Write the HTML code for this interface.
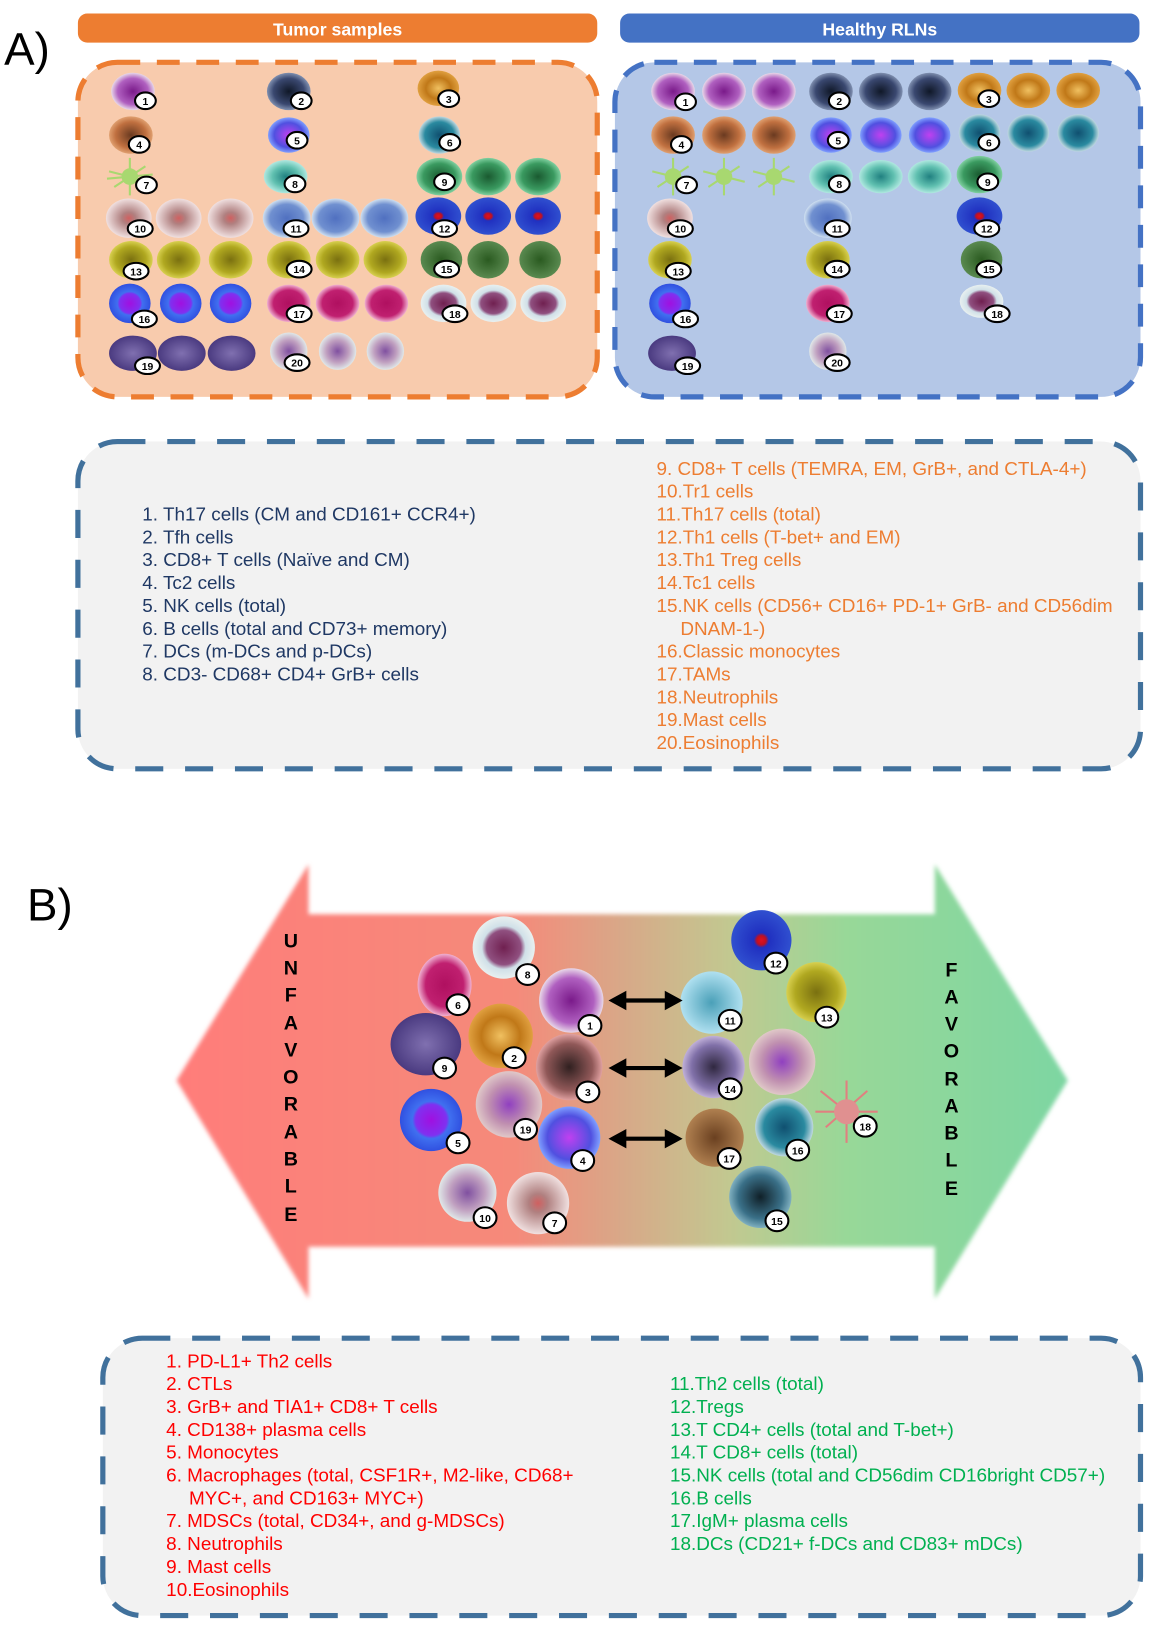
<!DOCTYPE html>
<html><head><meta charset="utf-8"><style>
html,body{margin:0;padding:0;background:#fff}
svg{display:block}
.t{font-family:"Liberation Sans",sans-serif;font-size:18.2px}
.b text{font-family:"Liberation Sans",sans-serif;font-size:10px;font-weight:bold;text-anchor:middle}
.b ellipse{fill:#fff;stroke:#000;stroke-width:2}
.L text{font-family:"Liberation Sans",sans-serif;font-size:19px;font-weight:bold;text-anchor:middle}
</style></head><body>
<svg width="1154" height="1627" viewBox="0 0 1111 1566" preserveAspectRatio="none" xmlns="http://www.w3.org/2000/svg">
<defs>
<radialGradient id="c1"><stop offset="0" stop-color="#7a1a8a"/><stop offset=".7" stop-color="#b060c0"/><stop offset="1" stop-color="#e8d8e8"/></radialGradient>
<radialGradient id="c2"><stop offset="0" stop-color="#101828"/><stop offset=".7" stop-color="#3a4870"/><stop offset="1" stop-color="#8090b0"/></radialGradient>
<radialGradient id="c3"><stop offset="0" stop-color="#f0c060"/><stop offset=".6" stop-color="#c07818"/><stop offset="1" stop-color="#e0a040"/></radialGradient>
<radialGradient id="c4"><stop offset="0" stop-color="#6a3a20"/><stop offset=".7" stop-color="#c07040"/><stop offset="1" stop-color="#e0a070"/></radialGradient>
<radialGradient id="c5"><stop offset="0" stop-color="#c040f0"/><stop offset=".7" stop-color="#5050e0"/><stop offset="1" stop-color="#80a0ff"/></radialGradient>
<radialGradient id="c6"><stop offset="0" stop-color="#105070"/><stop offset=".7" stop-color="#2a8aa0"/><stop offset="1" stop-color="#c0d8e0"/></radialGradient>
<radialGradient id="c8"><stop offset="0" stop-color="#208080"/><stop offset=".6" stop-color="#60c0b0"/><stop offset="1" stop-color="#b0e8e0"/></radialGradient>
<radialGradient id="c9"><stop offset="0" stop-color="#1a5a30"/><stop offset=".7" stop-color="#3a9a60"/><stop offset="1" stop-color="#80d0a0"/></radialGradient>
<radialGradient id="c10"><stop offset="0" stop-color="#d06060"/><stop offset=".3" stop-color="#b08080"/><stop offset="1" stop-color="#f0e0e0"/></radialGradient>
<radialGradient id="c11"><stop offset="0" stop-color="#5070c0"/><stop offset=".7" stop-color="#7090d0"/><stop offset="1" stop-color="#d0e0f0"/></radialGradient>
<radialGradient id="c12"><stop offset="0" stop-color="#e01020"/><stop offset=".15" stop-color="#c01020"/><stop offset=".25" stop-color="#2030c0"/><stop offset="1" stop-color="#3050d0"/></radialGradient>
<radialGradient id="c13"><stop offset="0" stop-color="#7a7010"/><stop offset=".7" stop-color="#b0a820"/><stop offset="1" stop-color="#d8d050"/></radialGradient>
<radialGradient id="c15"><stop offset="0" stop-color="#2a5a20"/><stop offset="1" stop-color="#5a8a50"/></radialGradient>
<radialGradient id="c16"><stop offset="0" stop-color="#a010e0"/><stop offset=".5" stop-color="#8030f0"/><stop offset=".6" stop-color="#4070f0"/><stop offset="1" stop-color="#3050e0"/></radialGradient>
<radialGradient id="c17"><stop offset="0" stop-color="#b01060"/><stop offset=".7" stop-color="#c02070"/><stop offset="1" stop-color="#f0b0d0"/></radialGradient>
<radialGradient id="c18"><stop offset="0" stop-color="#702050"/><stop offset=".55" stop-color="#905080"/><stop offset=".7" stop-color="#d0e0e8"/><stop offset="1" stop-color="#e8f0f0"/></radialGradient>
<radialGradient id="c19"><stop offset="0" stop-color="#8070b0"/><stop offset="1" stop-color="#4a3a80"/></radialGradient>
<radialGradient id="c20"><stop offset="0" stop-color="#8050a0"/><stop offset=".6" stop-color="#c0a0c0"/><stop offset="1" stop-color="#e0e8e8"/></radialGradient>
<radialGradient id="cB3"><stop offset="0" stop-color="#302020"/><stop offset=".7" stop-color="#905858"/><stop offset="1" stop-color="#e0a0a0"/></radialGradient>
<radialGradient id="cB19"><stop offset="0" stop-color="#9040c0"/><stop offset=".6" stop-color="#c090b0"/><stop offset="1" stop-color="#e0c8c8"/></radialGradient>
<radialGradient id="cB11"><stop offset="0" stop-color="#4aa0b8"/><stop offset="1" stop-color="#b0e0f0"/></radialGradient>
<radialGradient id="cB14"><stop offset="0" stop-color="#302840"/><stop offset=".7" stop-color="#8070a8"/><stop offset="1" stop-color="#c0b0d8"/></radialGradient>
<radialGradient id="cB17"><stop offset="0" stop-color="#6a4020"/><stop offset="1" stop-color="#b08050"/></radialGradient>
<radialGradient id="cB15"><stop offset="0" stop-color="#102028"/><stop offset=".7" stop-color="#3a7088"/><stop offset="1" stop-color="#80b0c0"/></radialGradient>
<linearGradient id="arr" x1="0" x2="1"><stop offset="0" stop-color="#ff7d7a"/><stop offset=".38" stop-color="#f58a7a"/><stop offset=".5" stop-color="#d8a888"/><stop offset=".62" stop-color="#c2c890"/><stop offset=".75" stop-color="#98d898"/><stop offset="1" stop-color="#7dd6a2"/></linearGradient>
<filter id="bl"><feGaussianBlur stdDeviation="2"/></filter>
</defs>

<!-- A -->
<text x="4" y="62" style="font-family:'Liberation Sans',sans-serif;font-size:44px">A)</text>
<rect x="75" y="13" width="500" height="28" rx="9" fill="#ED7D31"/>
<text x="325" y="34" text-anchor="middle" style="font-family:'Liberation Sans',sans-serif;font-size:17px;font-weight:bold" fill="#fff">Tumor samples</text>
<rect x="597" y="13" width="500" height="28" rx="9" fill="#4472C4"/>
<text x="847" y="34" text-anchor="middle" style="font-family:'Liberation Sans',sans-serif;font-size:17px;font-weight:bold" fill="#fff">Healthy RLNs</text>
<rect x="75" y="60" width="500" height="322" rx="38" fill="#F8CBAD" stroke="#ED7D31" stroke-width="5" stroke-dasharray="22 16"/>
<rect x="592" y="60" width="506" height="322" rx="38" fill="#B4C7E7" stroke="#4472C4" stroke-width="5" stroke-dasharray="22 16"/>

<g>
<ellipse cx="128" cy="88" rx="21" ry="18" fill="url(#c1)"/>
<ellipse cx="278" cy="88" rx="21" ry="18" fill="url(#c2)"/>
<ellipse cx="422" cy="85" rx="20" ry="17" fill="url(#c3)"/>
<ellipse cx="126" cy="130" rx="21" ry="18" fill="url(#c4)"/>
<ellipse cx="278" cy="130" rx="20" ry="17" fill="url(#c5)"/>
<ellipse cx="423" cy="130" rx="20" ry="18" fill="url(#c6)"/>
<circle cx="125" cy="170" r="8" fill="#a8d870"/><path d="M105 165 L145 175 M110 180 L140 160 M125 152 L125 188 M103 172 L147 168" stroke="#a8d870" stroke-width="2"/>
<ellipse cx="275" cy="170" rx="21" ry="16" fill="url(#c8)"/>
<ellipse cx="423" cy="170" rx="22" ry="18" fill="url(#c9)"/><ellipse cx="470" cy="170" rx="22" ry="18" fill="url(#c9)"/><ellipse cx="518" cy="170" rx="22" ry="18" fill="url(#c9)"/>
<ellipse cx="124" cy="210" rx="22" ry="19" fill="url(#c10)"/><ellipse cx="172" cy="210" rx="22" ry="19" fill="url(#c10)"/><ellipse cx="222" cy="210" rx="22" ry="19" fill="url(#c10)"/>
<ellipse cx="276" cy="210" rx="23" ry="19" fill="url(#c11)"/><ellipse cx="323" cy="210" rx="23" ry="19" fill="url(#c11)"/><ellipse cx="370" cy="210" rx="23" ry="19" fill="url(#c11)"/>
<ellipse cx="422" cy="208" rx="22" ry="18" fill="url(#c12)"/><ellipse cx="470" cy="208" rx="22" ry="18" fill="url(#c12)"/><ellipse cx="518" cy="208" rx="22" ry="18" fill="url(#c12)"/>
<ellipse cx="126" cy="250" rx="21" ry="18" fill="url(#c13)"/><ellipse cx="172" cy="250" rx="21" ry="18" fill="url(#c13)"/><ellipse cx="222" cy="250" rx="21" ry="18" fill="url(#c13)"/>
<ellipse cx="278" cy="250" rx="21" ry="18" fill="url(#c13)"/><ellipse cx="325" cy="250" rx="21" ry="18" fill="url(#c13)"/><ellipse cx="371" cy="250" rx="21" ry="18" fill="url(#c13)"/>
<ellipse cx="425" cy="250" rx="20" ry="18" fill="url(#c15)"/><ellipse cx="470" cy="250" rx="20" ry="18" fill="url(#c15)"/><ellipse cx="520" cy="250" rx="20" ry="18" fill="url(#c15)"/>
<ellipse cx="125" cy="292" rx="20" ry="19" fill="url(#c16)"/><ellipse cx="174" cy="292" rx="20" ry="19" fill="url(#c16)"/><ellipse cx="222" cy="292" rx="20" ry="19" fill="url(#c16)"/>
<ellipse cx="278" cy="292" rx="21" ry="18" fill="url(#c17)"/><ellipse cx="325" cy="292" rx="21" ry="18" fill="url(#c17)"/><ellipse cx="372" cy="292" rx="21" ry="18" fill="url(#c17)"/>
<ellipse cx="427" cy="292" rx="22" ry="18" fill="url(#c18)"/><ellipse cx="475" cy="292" rx="22" ry="18" fill="url(#c18)"/><ellipse cx="523" cy="292" rx="22" ry="18" fill="url(#c18)"/>
<ellipse cx="128" cy="340" rx="23" ry="17" fill="url(#c19)"/><ellipse cx="175" cy="340" rx="23" ry="17" fill="url(#c19)"/><ellipse cx="223" cy="340" rx="23" ry="17" fill="url(#c19)"/>
<circle cx="278" cy="338" r="18" fill="url(#c20)"/><circle cx="325" cy="338" r="18" fill="url(#c20)"/><circle cx="371" cy="338" r="18" fill="url(#c20)"/>
<ellipse cx="648" cy="88" rx="21" ry="18" fill="url(#c1)"/><ellipse cx="697" cy="88" rx="21" ry="18" fill="url(#c1)"/><ellipse cx="745" cy="88" rx="21" ry="18" fill="url(#c1)"/>
<ellipse cx="800" cy="88" rx="21" ry="18" fill="url(#c2)"/><ellipse cx="848" cy="88" rx="21" ry="18" fill="url(#c2)"/><ellipse cx="895" cy="88" rx="21" ry="18" fill="url(#c2)"/>
<ellipse cx="943" cy="87" rx="21" ry="17" fill="url(#c3)"/><ellipse cx="990" cy="87" rx="21" ry="17" fill="url(#c3)"/><ellipse cx="1038" cy="87" rx="21" ry="17" fill="url(#c3)"/>
<ellipse cx="648" cy="130" rx="21" ry="18" fill="url(#c4)"/><ellipse cx="697" cy="130" rx="21" ry="18" fill="url(#c4)"/><ellipse cx="745" cy="130" rx="21" ry="18" fill="url(#c4)"/>
<ellipse cx="800" cy="130" rx="20" ry="17" fill="url(#c5)"/><ellipse cx="848" cy="130" rx="20" ry="17" fill="url(#c5)"/><ellipse cx="895" cy="130" rx="20" ry="17" fill="url(#c5)"/>
<ellipse cx="943" cy="128" rx="20" ry="18" fill="url(#c6)"/><ellipse cx="990" cy="128" rx="20" ry="18" fill="url(#c6)"/><ellipse cx="1038" cy="128" rx="20" ry="18" fill="url(#c6)"/>
<g stroke="#a8d870" stroke-width="2"><path d="M628 165 L668 175 M633 180 L663 160 M648 152 L648 188"/><path d="M677 165 L717 175 M682 180 L712 160 M697 152 L697 188"/><path d="M725 165 L765 175 M730 180 L760 160 M745 152 L745 188"/></g>
<circle cx="648" cy="170" r="8" fill="#a8d870"/><circle cx="697" cy="170" r="8" fill="#a8d870"/><circle cx="745" cy="170" r="8" fill="#a8d870"/>
<ellipse cx="800" cy="170" rx="21" ry="16" fill="url(#c8)"/><ellipse cx="848" cy="170" rx="21" ry="16" fill="url(#c8)"/><ellipse cx="895" cy="170" rx="21" ry="16" fill="url(#c8)"/>
<ellipse cx="943" cy="168" rx="22" ry="18" fill="url(#c9)"/>
<ellipse cx="645" cy="210" rx="22" ry="19" fill="url(#c10)"/>
<ellipse cx="797" cy="210" rx="23" ry="19" fill="url(#c11)"/>
<ellipse cx="943" cy="208" rx="22" ry="18" fill="url(#c12)"/>
<ellipse cx="645" cy="250" rx="21" ry="18" fill="url(#c13)"/>
<ellipse cx="797" cy="250" rx="21" ry="18" fill="url(#c13)"/>
<ellipse cx="945" cy="250" rx="20" ry="18" fill="url(#c15)"/>
<ellipse cx="645" cy="292" rx="20" ry="19" fill="url(#c16)"/>
<ellipse cx="797" cy="292" rx="21" ry="18" fill="url(#c17)"/>
<ellipse cx="945" cy="290" rx="21" ry="16" fill="url(#c18)"/>
<ellipse cx="647" cy="340" rx="23" ry="17" fill="url(#c19)"/>
<circle cx="797" cy="338" r="18" fill="url(#c20)"/>
</g>

<g class="b">
<ellipse cx="140" cy="97" rx="10" ry="8"/><text x="140" y="101">1</text>
<ellipse cx="290" cy="97" rx="10" ry="8"/><text x="290" y="101">2</text>
<ellipse cx="432" cy="95" rx="10" ry="8"/><text x="432" y="99">3</text>
<ellipse cx="134" cy="139" rx="10" ry="8"/><text x="134" y="143">4</text>
<ellipse cx="286" cy="135" rx="10" ry="8"/><text x="286" y="139">5</text>
<ellipse cx="433" cy="137" rx="10" ry="8"/><text x="433" y="141">6</text>
<ellipse cx="141" cy="178" rx="10" ry="8"/><text x="141" y="182">7</text>
<ellipse cx="284" cy="177" rx="10" ry="8"/><text x="284" y="181">8</text>
<ellipse cx="428" cy="175" rx="10" ry="8"/><text x="428" y="179">9</text>
<ellipse cx="135" cy="220" rx="12" ry="8"/><text x="135" y="224">10</text>
<ellipse cx="285" cy="220" rx="12" ry="8"/><text x="285" y="224">11</text>
<ellipse cx="428" cy="220" rx="12" ry="8"/><text x="428" y="224">12</text>
<ellipse cx="131" cy="261" rx="12" ry="8"/><text x="131" y="265">13</text>
<ellipse cx="288" cy="259" rx="12" ry="8"/><text x="288" y="263">14</text>
<ellipse cx="430" cy="259" rx="12" ry="8"/><text x="430" y="263">15</text>
<ellipse cx="139" cy="307" rx="12" ry="8"/><text x="139" y="311">16</text>
<ellipse cx="288" cy="302" rx="12" ry="8"/><text x="288" y="306">17</text>
<ellipse cx="438" cy="302" rx="12" ry="8"/><text x="438" y="306">18</text>
<ellipse cx="142" cy="352" rx="12" ry="8"/><text x="142" y="356">19</text>
<ellipse cx="286" cy="349" rx="12" ry="8"/><text x="286" y="353">20</text>
<ellipse cx="660" cy="98" rx="10" ry="8"/><text x="660" y="102">1</text>
<ellipse cx="808" cy="97" rx="10" ry="8"/><text x="808" y="101">2</text>
<ellipse cx="952" cy="95" rx="10" ry="8"/><text x="952" y="99">3</text>
<ellipse cx="656" cy="139" rx="10" ry="8"/><text x="656" y="143">4</text>
<ellipse cx="807" cy="135" rx="10" ry="8"/><text x="807" y="139">5</text>
<ellipse cx="952" cy="137" rx="10" ry="8"/><text x="952" y="141">6</text>
<ellipse cx="661" cy="178" rx="10" ry="8"/><text x="661" y="182">7</text>
<ellipse cx="808" cy="177" rx="10" ry="8"/><text x="808" y="181">8</text>
<ellipse cx="951" cy="175" rx="10" ry="8"/><text x="951" y="179">9</text>
<ellipse cx="655" cy="220" rx="12" ry="8"/><text x="655" y="224">10</text>
<ellipse cx="806" cy="220" rx="12" ry="8"/><text x="806" y="224">11</text>
<ellipse cx="950" cy="220" rx="12" ry="8"/><text x="950" y="224">12</text>
<ellipse cx="653" cy="261" rx="12" ry="8"/><text x="653" y="265">13</text>
<ellipse cx="806" cy="259" rx="12" ry="8"/><text x="806" y="263">14</text>
<ellipse cx="952" cy="259" rx="12" ry="8"/><text x="952" y="263">15</text>
<ellipse cx="660" cy="307" rx="12" ry="8"/><text x="660" y="311">16</text>
<ellipse cx="808" cy="302" rx="12" ry="8"/><text x="808" y="306">17</text>
<ellipse cx="960" cy="302" rx="12" ry="8"/><text x="960" y="306">18</text>
<ellipse cx="662" cy="352" rx="12" ry="8"/><text x="662" y="356">19</text>
<ellipse cx="806" cy="349" rx="12" ry="8"/><text x="806" y="353">20</text>
</g>

<rect x="75" y="425" width="1023" height="315" rx="38" fill="#f2f2f2" stroke="#41719C" stroke-width="5" stroke-dasharray="27 21"/>
<g class="t" fill="#1F3864">
<text x="137" y="501">1.  Th17 cells (CM and CD161+ CCR4+)</text>
<text x="137" y="523">2.  Tfh cells</text>
<text x="137" y="545">3.  CD8+ T cells (Naïve and CM)</text>
<text x="137" y="567">4.  Tc2 cells</text>
<text x="137" y="589">5.  NK cells (total)</text>
<text x="137" y="611">6.  B cells (total and CD73+ memory)</text>
<text x="137" y="633">7.  DCs (m-DCs and p-DCs)</text>
<text x="137" y="655">8.  CD3- CD68+ CD4+ GrB+ cells</text>
</g>
<g class="t" fill="#ED7D31">
<text x="632" y="457">9.  CD8+ T cells (TEMRA, EM, GrB+, and CTLA-4+)</text>
<text x="632" y="479">10.Tr1 cells</text>
<text x="632" y="501">11.Th17 cells (total)</text>
<text x="632" y="523">12.Th1 cells (T-bet+ and EM)</text>
<text x="632" y="545">13.Th1 Treg cells</text>
<text x="632" y="567">14.Tc1 cells</text>
<text x="632" y="589">15.NK cells (CD56+ CD16+ PD-1+ GrB- and CD56dim</text>
<text x="655" y="611">DNAM-1-)</text>
<text x="632" y="633">16.Classic monocytes</text>
<text x="632" y="655">17.TAMs</text>
<text x="632" y="677">18.Neutrophils</text>
<text x="632" y="699">19.Mast cells</text>
<text x="632" y="721">20.Eosinophils</text>
</g>

<!-- B -->
<text x="26" y="886" style="font-family:'Liberation Sans',sans-serif;font-size:44px">B)</text>
<path d="M170 1040 L297 832 L297 880 L900 880 L900 832 L1028 1040 L900 1250 L900 1200 L297 1200 L297 1250 Z" fill="url(#arr)" filter="url(#bl)"/>

<g class="L">
<text x="280" y="912">U</text><text x="280" y="938">N</text><text x="280" y="964">F</text><text x="280" y="991">A</text><text x="280" y="1017">V</text><text x="280" y="1043">O</text><text x="280" y="1069">R</text><text x="280" y="1096">A</text><text x="280" y="1122">B</text><text x="280" y="1148">L</text><text x="280" y="1175">E</text>
<text x="916" y="940">F</text><text x="916" y="966">A</text><text x="916" y="992">V</text><text x="916" y="1018">O</text><text x="916" y="1045">R</text><text x="916" y="1071">A</text><text x="916" y="1097">B</text><text x="916" y="1123">L</text><text x="916" y="1150">E</text>
</g>

<g>
<circle cx="485" cy="912" r="30" fill="url(#c18)"/>
<ellipse cx="428" cy="948" rx="26" ry="30" fill="url(#c17)"/>
<circle cx="550" cy="963" r="31" fill="url(#c1)"/>
<circle cx="482" cy="997" r="31" fill="url(#c3)"/>
<ellipse cx="410" cy="1005" rx="34" ry="30" fill="url(#c19)"/>
<circle cx="548" cy="1027" r="32" fill="url(#cB3)"/>
<circle cx="490" cy="1063" r="32" fill="url(#cB19)"/>
<ellipse cx="415" cy="1078" rx="30" ry="30" fill="url(#c16)"/>
<circle cx="548" cy="1095" r="30" fill="url(#c5)"/>
<circle cx="450" cy="1148" r="28" fill="url(#c20)"/>
<circle cx="518" cy="1158" r="30" fill="url(#c10)"/>
<circle cx="733" cy="905" r="29" fill="url(#c12)"/>
<circle cx="685" cy="965" r="30" fill="url(#cB11)"/>
<circle cx="786" cy="955" r="29" fill="url(#c13)"/>
<circle cx="687" cy="1027" r="30" fill="url(#cB14)"/>
<circle cx="753" cy="1022" r="32" fill="url(#cB19)"/>
<circle cx="688" cy="1095" r="28" fill="url(#cB17)"/>
<circle cx="755" cy="1085" r="28" fill="url(#c6)"/>
<circle cx="732" cy="1152" r="30" fill="url(#cB15)"/>
<g stroke="#e08080" stroke-width="2"><path d="M790 1050 L840 1090 M795 1085 L835 1050 M815 1040 L815 1100 M785 1070 L845 1070"/></g>
<circle cx="815" cy="1070" r="12" fill="#e09090"/>
</g>
<g stroke="#000" stroke-width="4" fill="#000">
<line x1="598" y1="963" x2="645" y2="963"/><path d="M590 963 L601 957 L601 969Z M653 963 L642 957 L642 969Z"/>
<line x1="598" y1="1028" x2="645" y2="1028"/><path d="M590 1028 L601 1022 L601 1034Z M653 1028 L642 1022 L642 1034Z"/>
<line x1="598" y1="1096" x2="645" y2="1096"/><path d="M590 1096 L601 1090 L601 1102Z M653 1096 L642 1090 L642 1102Z"/>
</g>
<g class="b">
<ellipse cx="508" cy="938" rx="11" ry="10"/><text x="508" y="942">8</text>
<ellipse cx="441" cy="967" rx="11" ry="10"/><text x="441" y="971">6</text>
<ellipse cx="568" cy="987" rx="11" ry="10"/><text x="568" y="991">1</text>
<ellipse cx="495" cy="1018" rx="11" ry="10"/><text x="495" y="1022">2</text>
<ellipse cx="428" cy="1028" rx="11" ry="10"/><text x="428" y="1032">9</text>
<ellipse cx="566" cy="1051" rx="11" ry="10"/><text x="566" y="1055">3</text>
<ellipse cx="506" cy="1087" rx="11" ry="10"/><text x="506" y="1091">19</text>
<ellipse cx="441" cy="1100" rx="11" ry="10"/><text x="441" y="1104">5</text>
<ellipse cx="561" cy="1117" rx="11" ry="10"/><text x="561" y="1121">4</text>
<ellipse cx="467" cy="1172" rx="11" ry="10"/><text x="467" y="1176">10</text>
<ellipse cx="534" cy="1177" rx="11" ry="10"/><text x="534" y="1181">7</text>
<ellipse cx="747" cy="927" rx="11" ry="10"/><text x="747" y="931">12</text>
<ellipse cx="703" cy="982" rx="11" ry="10"/><text x="703" y="986">11</text>
<ellipse cx="796" cy="979" rx="11" ry="10"/><text x="796" y="983">13</text>
<ellipse cx="703" cy="1048" rx="11" ry="10"/><text x="703" y="1052">14</text>
<ellipse cx="833" cy="1084" rx="11" ry="10"/><text x="833" y="1088">18</text>
<ellipse cx="702" cy="1115" rx="11" ry="10"/><text x="702" y="1119">17</text>
<ellipse cx="768" cy="1107" rx="11" ry="10"/><text x="768" y="1111">16</text>
<ellipse cx="748" cy="1175" rx="11" ry="10"/><text x="748" y="1179">15</text>
</g>

<rect x="99" y="1288" width="999" height="267" rx="38" fill="#f2f2f2" stroke="#41719C" stroke-width="5" stroke-dasharray="27 21"/>
<g class="t" fill="#FF0000">
<text x="160" y="1316">1.  PD-L1+ Th2 cells</text>
<text x="160" y="1338">2.  CTLs</text>
<text x="160" y="1360">3.  GrB+ and TIA1+ CD8+ T cells</text>
<text x="160" y="1382">4.  CD138+ plasma cells</text>
<text x="160" y="1404">5.  Monocytes</text>
<text x="160" y="1426">6.  Macrophages (total, CSF1R+, M2-like, CD68+</text>
<text x="182" y="1448">MYC+, and CD163+ MYC+)</text>
<text x="160" y="1470">7.  MDSCs (total, CD34+, and g-MDSCs)</text>
<text x="160" y="1492">8.  Neutrophils</text>
<text x="160" y="1514">9.  Mast cells</text>
<text x="160" y="1536">10.Eosinophils</text>
</g>
<g class="t" fill="#00B050">
<text x="645" y="1338">11.Th2 cells (total)</text>
<text x="645" y="1360">12.Tregs</text>
<text x="645" y="1382">13.T CD4+ cells (total and T-bet+)</text>
<text x="645" y="1404">14.T CD8+ cells (total)</text>
<text x="645" y="1426">15.NK cells (total and CD56dim CD16bright CD57+)</text>
<text x="645" y="1448">16.B cells</text>
<text x="645" y="1470">17.IgM+ plasma cells</text>
<text x="645" y="1492">18.DCs (CD21+ f-DCs and CD83+ mDCs)</text>
</g>
</svg>
</body></html>
